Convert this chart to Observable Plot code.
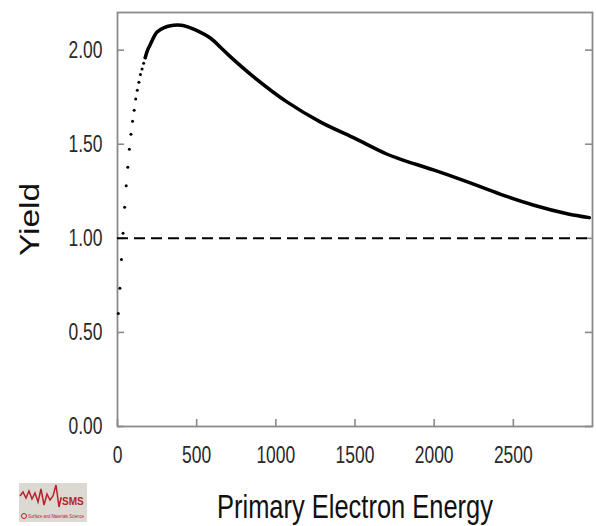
<!DOCTYPE html>
<html>
<head>
<meta charset="utf-8">
<script src="https://cdn.jsdelivr.net/npm/d3@7"></script>
<script src="https://cdn.jsdelivr.net/npm/@observablehq/plot@0.6"></script>
<style>
  html, body { margin: 0; padding: 0; background: #fff; }
  #wrap { position: relative; width: 596px; height: 526px; }
  #logo { position: absolute; left: 19px; top: 482px; width: 70px; height: 41px; overflow: visible; }
</style>
</head>
<body>
<div id="wrap">
  <div id="chart"></div>
  <svg id="logo" width="70" height="41" viewBox="0 0 70 41">
    <rect x="0" y="1" width="68" height="39" fill="#dcd8d2"/>
    <polyline fill="none" stroke="#b5232b" stroke-width="1.5" points="1,14 4,10 7,16 10,9 13,17 16,11 19,20 22,7 25,23 28,12 31,18 34,14 37,3 40,25 42,16 43,16"/>
    <text x="43" y="23" font-family="Liberation Sans, Arial, sans-serif" font-weight="bold" font-size="10" fill="#b5232b">SMS</text>
    <circle cx="5" cy="34" r="2.5" fill="none" stroke="#b5232b" stroke-width="1"/>
    <text x="9" y="36" font-family="Liberation Sans, Arial, sans-serif" font-size="5.5" fill="#b5232b" textLength="56" lengthAdjust="spacingAndGlyphs">Surface and Materials Science</text>
  </svg>
</div>
<script>
// ---- data ----
// sparse (separately visible) points at low energies
const dotEnergy = [5, 15, 25, 35, 45, 55, 65, 75, 85, 95, 105, 115, 125, 135, 145, 155, 165, 175];
const dotYield  = [0.60, 0.734, 0.888, 1.027, 1.165, 1.28, 1.378, 1.473, 1.553, 1.622, 1.68, 1.74, 1.787, 1.83, 1.87, 1.90, 1.93, 1.96];
// dense part of the curve (points merge into a thick line)
const curveEnergy = [175, 190, 210, 230, 250, 295, 335, 380, 420, 485, 590, 650, 700, 860, 1070, 1280, 1490, 1700, 1790, 2000, 2210, 2420, 2630, 2840, 2980];
const curveYield  = [1.96, 2.00, 2.035, 2.07, 2.097, 2.12, 2.13, 2.133, 2.13, 2.11, 2.062, 2.015, 1.975, 1.858, 1.725, 1.619, 1.535, 1.448, 1.42, 1.362, 1.30, 1.234, 1.176, 1.131, 1.11];
const referenceYield = [1.0];
const xTicks = [0, 500, 1000, 1500, 2000, 2500];
const yTicks = [0, 0.5, 1.0, 1.5, 2.0];
const xTitle = "Primary Electron Energy";
const yTitle = "Yield";

const dots = dotEnergy.map((e, i) => ({e, y: dotYield[i]}));
const curve = curveEnergy.map((e, i) => ({e, y: curveYield[i]}));

const W = 596, H = 526, mL = 117, mR = 4, mT = 12, mB = 100;
const pw = W - mL - mR, ph = H - mT - mB;
const font = "'Liberation Sans', Arial, sans-serif";
const gray = "#8a8a8a";

const chart = Plot.plot({
  width: W, height: H,
  marginLeft: mL, marginRight: mR, marginTop: mT, marginBottom: mB,
  x: {domain: [0, 3000]},
  y: {domain: [0, 2.2]},
  style: {fontFamily: font, background: "#fff", overflow: "visible"},
  marks: [
    Plot.tickY(yTicks, {y: d => d, stroke: gray, strokeWidth: 1.6, insetRight: pw - 7}),
    Plot.tickY(yTicks, {y: d => d, stroke: gray, strokeWidth: 1.6, insetLeft: pw - 7}),
    Plot.tickX(xTicks, {x: d => d, stroke: gray, strokeWidth: 1.6, insetTop: ph - 7}),
    Plot.frame({stroke: gray, strokeWidth: 1.8}),
    Plot.axisY(yTicks, {tickSize: 0, tickPadding: 15, tickFormat: d3.format(".2f"), fontSize: 23, color: "#2a2a2a", label: null}),
    Plot.axisX(xTicks, {tickSize: 0, tickPadding: 20, tickFormat: d => String(d), fontSize: 23, color: "#2a2a2a", label: null}),
    Plot.ruleY(referenceYield, {stroke: "#000", strokeWidth: 2, strokeDasharray: "11,6"}),
    Plot.line(curve, {x: "e", y: "y", stroke: "#000", strokeWidth: 3.5, curve: "catmull-rom"}),
    Plot.dot(dots, {x: "e", y: "y", r: 1.5, fill: "#000", stroke: null}),
    Plot.text([yTitle], {text: d => d, frameAnchor: "left", dx: -87.5, rotate: -90, fontSize: 33.5, fill: "#111", textAnchor: "middle", lineAnchor: "middle"}),
    Plot.text([xTitle], {text: d => d, frameAnchor: "bottom", dy: 80.5, fontSize: 33, fill: "#111", textAnchor: "middle", lineAnchor: "middle"})
  ]
});

// the reference's lettering is horizontally condensed: squeeze each text about its anchor
function squeeze(el, sx, sy) {
  const t = el.getAttribute("transform");
  if (t) {
    el.setAttribute("transform", t + ` scale(${sx},${sy})`);
  } else {
    const x = el.getAttribute("x") || 0, y = el.getAttribute("y") || 0;
    el.removeAttribute("x"); el.removeAttribute("y");
    el.setAttribute("transform", `translate(${x},${y}) scale(${sx},${sy})`);
  }
}
chart.querySelectorAll("text").forEach(el => {
  if (el.textContent === yTitle) squeeze(el, 1, 0.8);
  else if (el.textContent === xTitle) squeeze(el, 0.772, 1);
  else squeeze(el, 0.76, 1);
});
document.getElementById("chart").appendChild(chart);
</script>
</body>
</html>
